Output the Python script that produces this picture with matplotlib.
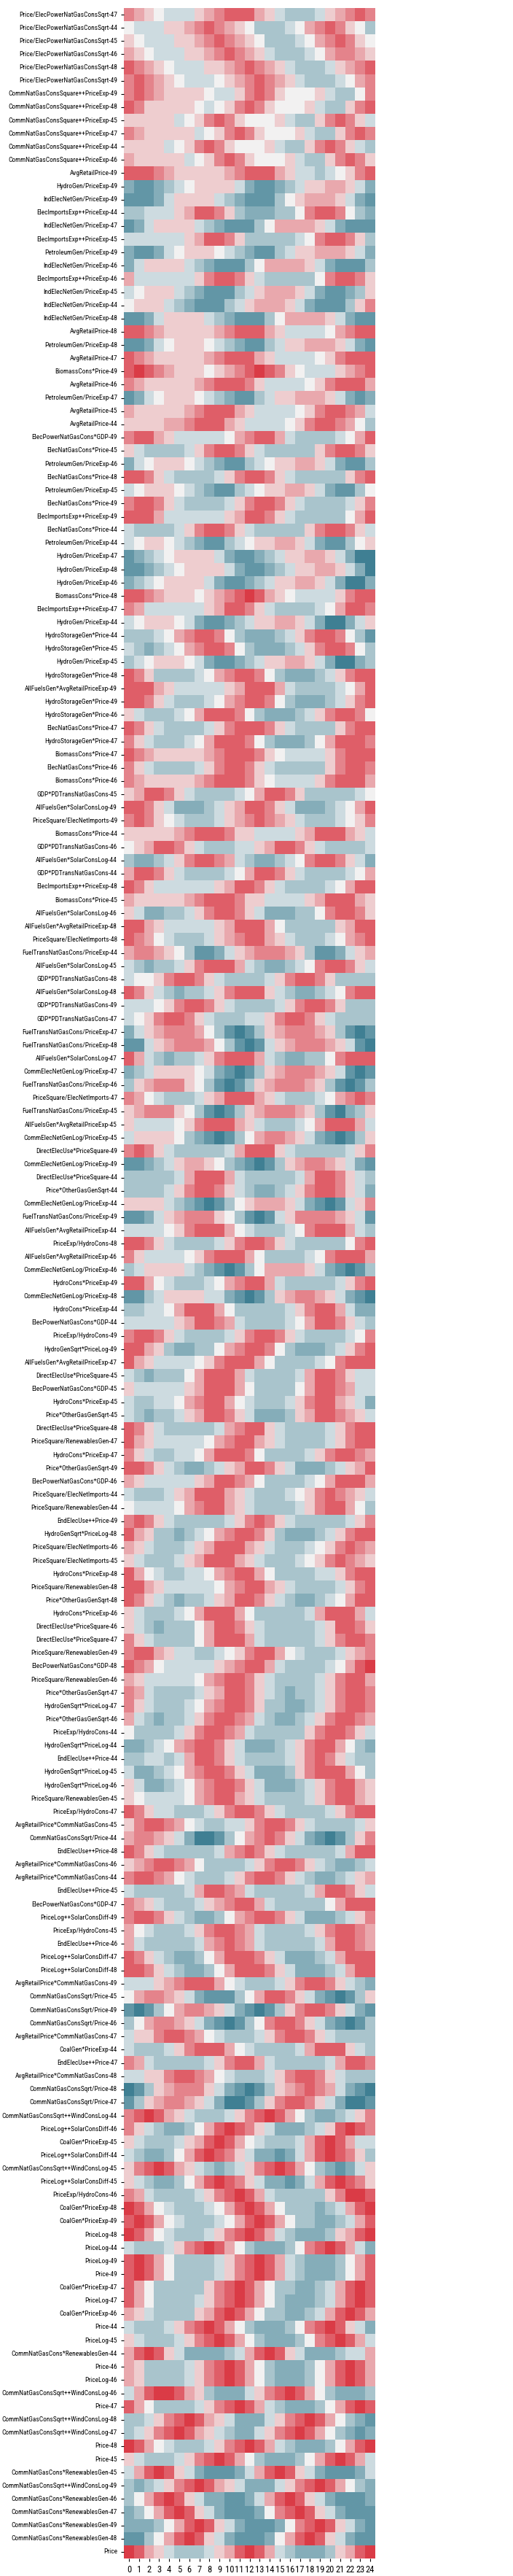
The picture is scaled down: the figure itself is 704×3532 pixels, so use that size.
import matplotlib
matplotlib.use("Agg")
import matplotlib.pyplot as plt
from matplotlib import font_manager
import seaborn as sns
import pandas as pd

# look for a narrow face for the long feature names, else plain DejaVu Sans
narrow = ('condensed', 'semi-condensed', 'extra-condensed', 'ultra-condensed')
fonts = font_manager.fontManager.ttflist
label_family, label_stretch = 'DejaVu Sans', 'normal'
for want in ['Liberation Sans Narrow', 'Roboto Condensed', 'Open Sans Condensed', 'Noto Sans',
             'DejaVu Sans', 'Roboto', 'Open Sans']:
    hit = [f for f in fonts if f.name == want and (f.stretch in narrow or 'Narrow' in want or 'Condensed' in want)
           and f.style == 'normal']
    if hit:
        label_family, label_stretch = want, hit[0].stretch
        break
plt.rcParams['font.family'] = [label_family, 'DejaVu Sans']
plt.rcParams['font.stretch'] = label_stretch

lags = list(range(25))

features = [
    "Price/ElecPowerNatGasConsSqrt-47", "Price/ElecPowerNatGasConsSqrt-44", "Price/ElecPowerNatGasConsSqrt-45",
    "Price/ElecPowerNatGasConsSqrt-46", "Price/ElecPowerNatGasConsSqrt-48", "Price/ElecPowerNatGasConsSqrt-49",
    "CommNatGasConsSquare++PriceExp-49", "CommNatGasConsSquare++PriceExp-48", "CommNatGasConsSquare++PriceExp-45",
    "CommNatGasConsSquare++PriceExp-47", "CommNatGasConsSquare++PriceExp-44", "CommNatGasConsSquare++PriceExp-46",
    "AvgRetailPrice-49", "HydroGen/PriceExp-49", "IndElecNetGen/PriceExp-49", "ElecImportsExp++PriceExp-44",
    "IndElecNetGen/PriceExp-47", "ElecImportsExp++PriceExp-45", "PetroleumGen/PriceExp-49", "IndElecNetGen/PriceExp-46",
    "ElecImportsExp++PriceExp-46", "IndElecNetGen/PriceExp-45", "IndElecNetGen/PriceExp-44", "IndElecNetGen/PriceExp-48",
    "AvgRetailPrice-48", "PetroleumGen/PriceExp-48", "AvgRetailPrice-47", "BiomassCons*Price-49",
    "AvgRetailPrice-46", "PetroleumGen/PriceExp-47", "AvgRetailPrice-45", "AvgRetailPrice-44",
    "ElecPowerNatGasCons*GDP-49", "ElecNatGasCons*Price-45", "PetroleumGen/PriceExp-46", "ElecNatGasCons*Price-48",
    "PetroleumGen/PriceExp-45", "ElecNatGasCons*Price-49", "ElecImportsExp++PriceExp-49", "ElecNatGasCons*Price-44",
    "PetroleumGen/PriceExp-44", "HydroGen/PriceExp-47", "HydroGen/PriceExp-48", "HydroGen/PriceExp-46",
    "BiomassCons*Price-48", "ElecImportsExp++PriceExp-47", "HydroGen/PriceExp-44", "HydroStorageGen*Price-44",
    "HydroStorageGen*Price-45", "HydroGen/PriceExp-45", "HydroStorageGen*Price-48", "AllFuelsGen*AvgRetailPriceExp-49",
    "HydroStorageGen*Price-49", "HydroStorageGen*Price-46", "ElecNatGasCons*Price-47", "HydroStorageGen*Price-47",
    "BiomassCons*Price-47", "ElecNatGasCons*Price-46", "BiomassCons*Price-46", "GDP*PDTransNatGasCons-45",
    "AllFuelsGen*SolarConsLog-49", "PriceSquare/ElecNetImports-49", "BiomassCons*Price-44", "GDP*PDTransNatGasCons-46",
    "AllFuelsGen*SolarConsLog-44", "GDP*PDTransNatGasCons-44", "ElecImportsExp++PriceExp-48", "BiomassCons*Price-45",
    "AllFuelsGen*SolarConsLog-46", "AllFuelsGen*AvgRetailPriceExp-48", "PriceSquare/ElecNetImports-48",
    "FuelTransNatGasCons/PriceExp-44", "AllFuelsGen*SolarConsLog-45", "GDP*PDTransNatGasCons-48",
    "AllFuelsGen*SolarConsLog-48", "GDP*PDTransNatGasCons-49", "GDP*PDTransNatGasCons-47",
    "FuelTransNatGasCons/PriceExp-47", "FuelTransNatGasCons/PriceExp-48", "AllFuelsGen*SolarConsLog-47",
    "CommElecNetGenLog/PriceExp-47", "FuelTransNatGasCons/PriceExp-46", "PriceSquare/ElecNetImports-47",
    "FuelTransNatGasCons/PriceExp-45", "AllFuelsGen*AvgRetailPriceExp-45", "CommElecNetGenLog/PriceExp-45",
    "DirectElecUse*PriceSquare-49", "CommElecNetGenLog/PriceExp-49", "DirectElecUse*PriceSquare-44",
    "Price*OtherGasGenSqrt-44", "CommElecNetGenLog/PriceExp-44", "FuelTransNatGasCons/PriceExp-49",
    "AllFuelsGen*AvgRetailPriceExp-44", "PriceExp/HydroCons-48", "AllFuelsGen*AvgRetailPriceExp-46",
    "CommElecNetGenLog/PriceExp-46", "HydroCons*PriceExp-49", "CommElecNetGenLog/PriceExp-48",
    "HydroCons*PriceExp-44", "ElecPowerNatGasCons*GDP-44", "PriceExp/HydroCons-49", "HydroGenSqrt*PriceLog-49",
    "AllFuelsGen*AvgRetailPriceExp-47", "DirectElecUse*PriceSquare-45", "ElecPowerNatGasCons*GDP-45",
    "HydroCons*PriceExp-45", "Price*OtherGasGenSqrt-45", "DirectElecUse*PriceSquare-48",
    "PriceSquare/RenewablesGen-47", "HydroCons*PriceExp-47", "Price*OtherGasGenSqrt-49",
    "ElecPowerNatGasCons*GDP-46", "PriceSquare/ElecNetImports-44", "PriceSquare/RenewablesGen-44",
    "EndElecUse++Price-49", "HydroGenSqrt*PriceLog-48", "PriceSquare/ElecNetImports-46",
    "PriceSquare/ElecNetImports-45", "HydroCons*PriceExp-48", "PriceSquare/RenewablesGen-48",
    "Price*OtherGasGenSqrt-48", "HydroCons*PriceExp-46", "DirectElecUse*PriceSquare-46",
    "DirectElecUse*PriceSquare-47", "PriceSquare/RenewablesGen-49", "ElecPowerNatGasCons*GDP-48",
    "PriceSquare/RenewablesGen-46", "Price*OtherGasGenSqrt-47", "HydroGenSqrt*PriceLog-47",
    "Price*OtherGasGenSqrt-46", "PriceExp/HydroCons-44", "HydroGenSqrt*PriceLog-44", "EndElecUse++Price-44",
    "HydroGenSqrt*PriceLog-45", "HydroGenSqrt*PriceLog-46", "PriceSquare/RenewablesGen-45",
    "PriceExp/HydroCons-47", "AvgRetailPrice*CommNatGasCons-45", "CommNatGasConsSqrt/Price-44",
    "EndElecUse++Price-48", "AvgRetailPrice*CommNatGasCons-46", "AvgRetailPrice*CommNatGasCons-44",
    "EndElecUse++Price-45", "ElecPowerNatGasCons*GDP-47", "PriceLog++SolarConsDiff-49", "PriceExp/HydroCons-45",
    "EndElecUse++Price-46", "PriceLog++SolarConsDiff-47", "PriceLog++SolarConsDiff-48",
    "AvgRetailPrice*CommNatGasCons-49", "CommNatGasConsSqrt/Price-45", "CommNatGasConsSqrt/Price-49",
    "CommNatGasConsSqrt/Price-46", "AvgRetailPrice*CommNatGasCons-47", "CoalGen*PriceExp-44",
    "EndElecUse++Price-47", "AvgRetailPrice*CommNatGasCons-48", "CommNatGasConsSqrt/Price-48",
    "CommNatGasConsSqrt/Price-47", "CommNatGasConsSqrt++WindConsLog-44", "PriceLog++SolarConsDiff-46",
    "CoalGen*PriceExp-45", "PriceLog++SolarConsDiff-44", "CommNatGasConsSqrt++WindConsLog-45",
    "PriceLog++SolarConsDiff-45", "PriceExp/HydroCons-46", "CoalGen*PriceExp-48", "CoalGen*PriceExp-49",
    "PriceLog-48", "PriceLog-44", "PriceLog-49", "Price-49", "CoalGen*PriceExp-47", "PriceLog-47",
    "CoalGen*PriceExp-46", "Price-44", "PriceLog-45", "CommNatGasCons*RenewablesGen-44", "Price-46",
    "PriceLog-46", "CommNatGasConsSqrt++WindConsLog-46", "Price-47", "CommNatGasConsSqrt++WindConsLog-48",
    "CommNatGasConsSqrt++WindConsLog-47", "Price-48", "Price-45", "CommNatGasCons*RenewablesGen-45",
    "CommNatGasConsSqrt++WindConsLog-49", "CommNatGasCons*RenewablesGen-46", "CommNatGasCons*RenewablesGen-47",
    "CommNatGasCons*RenewablesGen-49", "CommNatGasCons*RenewablesGen-48", "Price",
]

# correlation strength per lag, in steps from -5 to 5
values = [
    [3, 2, 1, 0, -1, -1, -1, 1, 2, 3, 4, 4, 4, 2, 1, -1, -2, -2, -2, -1, 1, 2, 3, 4, 3],
    [0, -1, -1, -1, 1, 1, 2, 3, 4, 3, 2, 1, 0, -2, -2, -2, -1, 0, 2, 3, 4, 3, 1, 0, -2],
    [1, 0, -1, -1, -1, 1, 1, 2, 3, 4, 3, 2, 1, 0, -2, -2, -2, -1, 0, 2, 3, 4, 3, 1, 0],
    [2, 1, 0, -1, -1, -1, 1, 1, 2, 3, 4, 3, 2, 1, -1, -2, -2, -2, -1, 0, 2, 3, 3, 2, 1],
    [4, 3, 2, 1, 0, -1, -1, -1, 1, 1, 2, 3, 4, 3, 2, 1, -1, -2, -2, -2, -1, 1, 2, 3, 4],
    [3, 4, 3, 2, 1, 0, -1, -1, -1, 0, 1, 2, 3, 4, 3, 2, 1, -1, -2, -2, -2, -1, 0, 2, 3],
    [3, 4, 3, 2, 1, 1, 1, 1, 0, -1, -1, 1, 3, 4, 3, 1, 0, 0, 0, 1, -1, -2, -2, 0, 3],
    [4, 3, 1, 1, 1, 1, 1, 0, -1, 0, 1, 3, 4, 3, 1, 0, 0, 0, 1, -1, -2, -2, 1, 3, 4],
    [1, 1, 1, 1, 1, -1, 0, 1, 3, 4, 3, 1, 0, 0, 0, 1, -1, -2, -2, 1, 3, 4, 3, 1, -1],
    [3, 2, 1, 1, 1, 1, 1, -1, 0, 1, 3, 4, 3, 1, 0, 0, 0, 1, -1, -2, -2, 1, 3, 4, 3],
    [1, 1, 1, 1, -1, 0, 1, 3, 4, 3, 1, 0, 0, 0, 1, -1, -2, -2, 1, 3, 4, 3, 1, -1, -2],
    [2, 1, 1, 1, 1, 1, -1, 0, 1, 3, 4, 3, 1, 0, 0, 0, 1, -1, -2, -2, 1, 3, 4, 3, 1],
    [4, 4, 4, 3, 2, 1, 1, 1, 1, 1, 2, 3, 4, 4, 4, 2, 1, -1, -1, -2, -1, 0, 1, 3, 4],
    [-3, -4, -4, -3, -2, -1, 0, 1, 1, 1, 1, -1, -3, -4, -4, -3, -2, -1, 1, 1, 2, 2, 1, -1, -3],
    [-4, -4, -4, -3, -1, 1, 1, 1, 1, -1, -2, -3, -4, -4, -4, -2, 0, 1, 2, 2, 2, 1, -1, -3, -4],
    [-2, -2, -1, -1, -1, 1, 2, 4, 4, 3, 1, -2, -3, -3, -3, -2, -2, 0, 3, 4, 4, 3, 0, -2, -3],
    [-4, -3, -1, 1, 1, 1, 1, -1, -2, -3, -4, -4, -4, -2, 0, 2, 2, 2, 2, 1, -1, -3, -4, -4, -4],
    [-1, -1, -1, -1, -1, -1, 1, 2, 4, 4, 3, 1, -2, -2, -2, -2, -2, -1, 0, 3, 4, 4, 3, 1, -2],
    [-3, -4, -4, -3, -1, 0, 1, 1, 1, 0, -1, -2, -3, -4, -4, -2, -1, 1, 1, 2, 2, 2, 1, -1, -3],
    [-3, -1, 1, 1, 1, 1, -1, -2, -3, -4, -4, -4, -2, 0, 2, 2, 2, 2, 1, -1, -3, -4, -4, -4, -2],
    [2, -1, -1, -1, -1, -1, -1, 1, 3, 4, 4, 3, 1, -1, -2, -2, -2, -2, -2, 0, 3, 4, 4, 3, 1],
    [-1, 0, 1, 1, 1, -1, -2, -3, -4, -4, -4, -2, -1, 1, 2, 2, 2, 1, -1, -3, -4, -4, -3, -2, 1],
    [0, 1, 1, 1, -1, -2, -3, -4, -4, -4, -2, -1, 1, 2, 2, 2, 1, -1, -3, -4, -4, -4, -2, 1, 3],
    [-4, -4, -3, -1, 1, 1, 1, 1, -1, -2, -3, -4, -4, -4, -2, 0, 2, 2, 2, 2, 1, -1, -3, -4, -4],
    [4, 4, 3, 2, 1, 1, 1, 1, 1, 2, 3, 4, 4, 4, 2, 1, -1, -1, -1, -1, 0, 2, 3, 4, 4],
    [-4, -4, -3, -1, 0, 1, 1, 1, 0, -1, -2, -3, -4, -4, -2, -1, 1, 1, 2, 2, 2, 1, -1, -3, -4],
    [4, 3, 2, 1, 1, 1, 1, 1, 2, 3, 4, 4, 4, 2, 1, -1, -1, -1, -1, 0, 1, 3, 4, 4, 4],
    [4, 5, 4, 3, 2, 1, 1, 1, 0, 1, 2, 3, 4, 5, 4, 3, 1, 0, -1, -1, -1, 1, 2, 3, 4],
    [3, 2, 1, 1, 1, 1, 1, 2, 3, 4, 4, 4, 3, 1, -1, -1, -1, -1, 0, 1, 3, 4, 4, 4, 2],
    [-4, -3, -1, 0, 1, 1, 1, 0, -1, -2, -3, -4, -4, -2, -1, 1, 1, 2, 2, 2, 1, -1, -3, -4, -3],
    [2, 1, 1, 1, 1, 1, 2, 3, 4, 4, 4, 2, 1, -1, -1, -1, -1, 0, 1, 3, 4, 4, 3, 2, -1],
    [1, 1, 1, 1, 2, 2, 3, 4, 4, 4, 2, 1, -1, -1, -1, -1, 0, 1, 3, 4, 4, 3, 2, 0, -2],
    [3, 4, 4, 2, 1, -1, -1, -1, -1, -1, 0, 2, 3, 4, 4, 2, -1, -2, -2, -2, -2, -1, 0, 2, 4],
    [1, -1, -2, -2, -2, -2, -1, 1, 3, 4, 4, 3, 1, -1, -2, -2, -2, -2, -2, 1, 3, 4, 4, 3, 1],
    [-3, -1, 0, 1, 1, 1, 0, -1, -2, -3, -4, -4, -2, -1, 0, 1, 1, 2, 2, 1, -1, -3, -4, -4, -2],
    [4, 4, 3, 1, -1, -2, -2, -2, -2, -1, 1, 3, 4, 4, 3, 1, -1, -2, -2, -2, -2, -2, 1, 3, 4],
    [-1, 0, 1, 1, 1, 0, -1, -2, -3, -4, -4, -2, -1, 0, 1, 1, 2, 2, 1, -1, -3, -4, -4, -2, 0],
    [3, 4, 4, 3, 1, -1, -2, -2, -2, -2, -1, 1, 3, 4, 4, 3, 1, -1, -2, -2, -2, -2, -1, 1, 3],
    [4, 4, 4, 2, -1, -1, -1, -1, -1, -1, 1, 2, 4, 4, 3, 1, -1, -2, -2, -2, -2, -2, 0, 2, 4],
    [-1, -2, -2, -2, -2, -1, 1, 3, 4, 4, 3, 1, -1, -2, -2, -2, -2, -2, 1, 3, 4, 4, 3, 1, -1],
    [-1, 0, 1, 1, 0, -1, -2, -3, -4, -4, -2, -1, 0, 1, 1, 2, 2, 1, -1, -3, -4, -4, -2, 0, 1],
    [-4, -3, -2, -1, 0, 1, 1, 1, 1, -1, -3, -4, -4, -3, -2, -1, 1, 1, 2, 2, 1, -1, -3, -5, -5],
    [-4, -4, -3, -2, -1, 0, 1, 1, 1, 1, -1, -3, -4, -4, -3, -2, -1, 1, 1, 2, 2, 1, -1, -3, -5],
    [-3, -2, -1, 0, 1, 1, 1, 1, -1, -3, -4, -4, -3, -2, -1, 1, 1, 2, 2, 1, -1, -3, -5, -5, -3],
    [4, 4, 3, 2, 1, 1, 1, 0, 1, 2, 3, 4, 5, 4, 2, 1, 0, -1, -1, -1, -1, 1, 3, 4, 4],
    [3, 2, -1, -1, -1, -1, -1, -1, 1, 2, 4, 4, 3, 1, -1, -2, -2, -2, -2, -1, 0, 2, 4, 4, 3],
    [-1, 0, 1, 1, 1, 0, -1, -3, -4, -4, -3, -2, -1, 1, 1, 2, 2, 1, -1, -3, -5, -5, -3, -1, 1],
    [-2, -2, -2, -1, 0, 2, 3, 4, 4, 3, 0, -2, -3, -3, -3, -2, -1, 1, 3, 4, 4, 3, 0, -2, -4],
    [-1, -2, -3, -2, -1, 0, 2, 3, 4, 4, 3, 0, -2, -3, -3, -3, -2, -1, 1, 3, 4, 4, 3, 0, -2],
    [-2, -1, 0, 1, 1, 1, 0, -1, -3, -4, -4, -3, -2, -1, 1, 1, 2, 2, 1, -1, -3, -5, -5, -3, -2],
    [4, 3, 1, -2, -2, -2, -2, -1, 0, 2, 3, 4, 4, 3, 0, -2, -3, -3, -3, -2, -1, 1, 3, 4, 4],
    [4, 4, 4, 2, 1, -1, -1, -1, -1, -1, 1, 2, 4, 4, 4, 2, -1, -2, -2, -2, -2, -1, 0, 2, 4],
    [4, 4, 3, 1, -1, -2, -2, -2, -1, 0, 2, 3, 4, 4, 3, 0, -2, -3, -3, -3, -2, -1, 1, 3, 4],
    [1, -1, -2, -2, -2, -1, 0, 2, 4, 4, 4, 3, 0, -2, -3, -3, -3, -2, -1, 1, 3, 4, 4, 3, 0],
    [4, 3, 1, -1, -2, -2, -2, -2, -1, 1, 3, 4, 4, 4, 3, 1, -1, -2, -2, -2, -2, 1, 3, 4, 4],
    [3, 1, -1, -2, -2, -2, -1, 0, 2, 4, 4, 4, 3, 0, -2, -3, -3, -3, -2, 0, 2, 4, 4, 4, 3],
    [4, 3, 2, 1, 1, 1, 1, 1, 2, 3, 4, 4, 4, 3, 1, 0, -1, -1, -1, -1, 1, 3, 4, 4, 4],
    [3, 1, -1, -2, -2, -2, -2, -1, 1, 3, 4, 4, 3, 1, -1, -2, -2, -2, -2, -2, 1, 3, 4, 4, 3],
    [3, 2, 1, 1, 1, 1, 1, 2, 3, 4, 4, 4, 3, 1, 0, -1, -1, -1, -1, 1, 3, 4, 4, 4, 2],
    [1, 2, 4, 4, 3, 1, -1, -2, -2, -2, -2, -1, 0, 2, 4, 4, 3, 1, -2, -2, -2, -2, -2, -1, 0],
    [4, 4, 3, 1, -1, -3, -3, -3, -2, -1, 1, 2, 4, 4, 3, 1, -1, -3, -3, -3, -2, -1, 0, 2, 4],
    [3, 4, 3, 1, 0, -1, -2, -2, -2, -1, 1, 2, 3, 4, 3, 2, 1, -1, -2, -2, -2, -1, 0, 1, 3],
    [1, 1, 1, 1, 1, 2, 3, 4, 4, 4, 3, 1, 1, -1, -1, -1, -1, 1, 2, 4, 4, 4, 2, 1, -1],
    [0, 1, 2, 4, 4, 3, 1, -1, -2, -2, -2, -1, -1, 1, 2, 4, 4, 3, 1, -1, -2, -2, -2, -2, -1],
    [-2, -3, -3, -2, -1, 1, 3, 4, 4, 3, 2, -1, -2, -3, -3, -2, -1, 0, 3, 4, 4, 3, 1, -1, -3],
    [2, 4, 4, 3, 1, -1, -2, -2, -2, -2, -1, 0, 2, 4, 4, 3, 1, -1, -2, -2, -2, -2, -1, 0, 2],
    [4, 3, 1, -1, -1, -1, -1, -1, -1, 1, 2, 4, 4, 3, 1, -1, -2, -2, -2, -2, -1, 0, 2, 4, 4],
    [2, 1, 1, 1, 1, 1, 2, 3, 4, 4, 4, 3, 1, 1, -1, -1, -1, -1, 1, 2, 4, 4, 4, 2, 1],
    [1, -1, -3, -3, -2, -2, -1, 1, 3, 4, 4, 3, 1, -1, -3, -3, -3, -2, -2, 0, 3, 4, 4, 3, 1],
    [4, 4, 2, 1, -1, -1, -1, -1, -1, 1, 2, 4, 4, 4, 2, 0, -2, -2, -2, -2, -2, 1, 2, 4, 4],
    [4, 3, 2, 0, -1, -2, -2, -2, -1, 1, 2, 3, 4, 4, 2, 1, -1, -2, -2, -2, -1, 0, 2, 3, 4],
    [2, 3, 3, 2, 1, 0, -2, -4, -4, -3, -1, 1, 2, 3, 3, 3, 2, 1, -2, -4, -4, -3, -1, 1, 2],
    [-1, -2, -3, -2, -2, -1, 1, 3, 4, 4, 4, 2, -1, -2, -3, -3, -2, -1, 0, 3, 4, 4, 3, 1, -1],
    [-1, 0, 0, 1, 3, 4, 4, 3, 1, -1, -2, -2, -2, -2, -1, 1, 3, 4, 4, 3, 1, -2, -2, -2, -2],
    [4, 3, 1, -1, -2, -3, -2, -2, -1, 1, 3, 4, 4, 4, 1, -1, -2, -3, -3, -2, -1, 0, 3, 4, 4],
    [-1, -1, -1, 0, 1, 3, 4, 4, 3, 1, -1, -2, -2, -2, -2, -1, 1, 3, 4, 4, 3, 1, -2, -2, -2],
    [-1, 0, 1, 3, 4, 4, 3, 1, -1, -2, -2, -2, -1, -1, 1, 3, 4, 4, 3, 1, -1, -2, -2, -2, -2],
    [-3, -1, 1, 2, 3, 3, 3, 2, 0, -2, -4, -5, -4, -2, 1, 2, 3, 3, 3, 2, 1, -2, -4, -5, -4],
    [-4, -4, -1, 1, 2, 3, 3, 3, 2, 0, -2, -4, -5, -4, -1, 1, 2, 3, 3, 3, 2, 1, -1, -4, -5],
    [4, 2, -1, -2, -3, -2, -2, -1, 1, 3, 4, 4, 4, 2, -1, -2, -3, -3, -2, -2, 0, 3, 4, 4, 4],
    [-3, -2, -1, 1, 1, 1, 1, 0, -1, -3, -4, -5, -4, -2, 1, 2, 3, 3, 3, 2, 1, -1, -4, -5, -4],
    [-2, 1, 2, 3, 3, 3, 1, 0, -2, -4, -5, -4, -2, 1, 2, 3, 3, 3, 2, 1, -2, -4, -5, -4, -2],
    [3, 2, 0, -1, -2, -2, -2, -1, 1, 2, 4, 4, 4, 2, 1, -1, -2, -2, -2, -1, 0, 2, 3, 4, 3],
    [1, 2, 3, 3, 3, 1, 0, -2, -4, -5, -4, -2, 1, 2, 3, 3, 3, 2, 1, -2, -4, -5, -3, -2, 1],
    [1, -1, -1, -1, -1, 0, 1, 3, 4, 4, 4, 2, 1, -1, -2, -2, -2, -1, 0, 2, 4, 4, 4, 2, -1],
    [-1, 1, 1, 1, 1, 0, -2, -3, -4, -5, -4, -2, 0, 2, 3, 3, 2, 1, -1, -3, -4, -5, -4, -2, 1],
    [3, 4, 3, 1, -1, -2, -2, -2, -2, -2, -1, 2, 4, 4, 4, 1, -1, -2, -2, -2, -2, -2, -1, 1, 3],
    [-4, -4, -3, -2, -1, 1, 2, 2, 1, 0, -2, -3, -4, -5, -4, -2, 1, 2, 3, 3, 2, 1, -1, -3, -4],
    [-2, -2, -2, -2, -2, -1, 2, 4, 4, 4, 2, -1, -2, -2, -2, -2, -2, -1, 2, 4, 4, 3, 1, -1, -2],
    [-2, -2, -2, -2, -1, 1, 3, 4, 4, 3, 1, -1, -2, -3, -3, -2, -1, 1, 3, 4, 4, 3, 1, -1, -3],
    [1, 1, 1, 1, -1, -2, -3, -4, -5, -4, -2, 0, 1, 2, 2, 2, 1, -1, -3, -4, -5, -4, -1, 1, 3],
    [-4, -4, -3, -1, 1, 2, 3, 3, 3, 1, 0, -2, -4, -5, -4, -1, 1, 3, 3, 3, 3, 2, 1, -1, -4],
    [-1, -1, -1, -1, 0, 1, 3, 4, 4, 4, 2, 0, -1, -2, -2, -2, -1, 0, 3, 4, 4, 4, 2, -1, -2],
    [4, 4, 3, 1, -1, -2, -2, -2, -2, -1, 1, 3, 4, 4, 3, 1, -1, -2, -2, -2, -2, -2, 0, 3, 4],
    [3, 1, -1, -1, -1, -1, 0, 1, 3, 4, 4, 4, 2, 0, -2, -2, -2, -2, -1, 0, 3, 4, 4, 4, 2],
    [-2, -1, 1, 1, 1, 1, -1, -2, -3, -4, -5, -4, -2, 0, 2, 2, 2, 2, 1, -1, -3, -4, -5, -4, -2],
    [4, 4, 2, 0, -1, -2, -2, -2, -1, 0, 2, 3, 4, 4, 2, -1, -2, -2, -2, -2, -2, -1, 1, 3, 4],
    [-4, -4, -2, -1, 1, 1, 1, 1, -1, -1, -3, -4, -5, -4, -2, 1, 2, 3, 3, 2, 1, -1, -3, -4, -5],
    [-2, -2, -1, -1, 0, 2, 4, 4, 4, 2, 0, -2, -2, -2, -2, -2, -1, 1, 3, 4, 4, 2, -1, -3, -3],
    [-1, -1, -1, -1, -1, 1, 2, 4, 4, 3, 2, -1, -2, -2, -2, -2, -1, 0, 2, 4, 4, 3, 1, -1, -2],
    [3, 4, 4, 3, 1, -1, -2, -2, -2, -2, -1, 1, 3, 4, 4, 3, 1, -1, -2, -2, -2, -2, -1, 0, 3],
    [4, 4, 2, 1, -2, -3, -3, -2, -2, 0, 2, 3, 4, 4, 3, 0, -2, -3, -3, -3, -2, -1, 1, 3, 4],
    [4, 2, 1, -1, -1, -1, -1, 0, 1, 3, 4, 4, 4, 2, 0, -2, -2, -2, -2, -1, 0, 3, 4, 4, 4],
    [-1, -2, -3, -2, -2, -2, 0, 2, 4, 4, 4, 2, -1, -2, -2, -2, -2, -1, 2, 4, 4, 3, 1, -1, -1],
    [1, -1, -1, -1, -1, -1, 1, 2, 4, 4, 4, 2, 0, -2, -2, -2, -2, 0, 2, 4, 4, 3, 2, -1, -1],
    [-1, -2, -2, -1, -1, 0, 2, 3, 4, 4, 2, 0, -1, -2, -2, -2, -1, 1, 3, 4, 4, 2, 1, -1, -3],
    [-1, -2, -3, -2, -2, -1, 1, 2, 4, 4, 3, 1, -1, -3, -3, -3, -2, 1, 2, 4, 4, 3, 2, 1, -1],
    [4, 3, 1, -1, -2, -2, -2, -2, -2, -1, 2, 3, 4, 4, 1, -1, -2, -2, -2, -2, -1, 1, 3, 4, 4],
    [4, 2, 1, -1, -1, -1, -1, -1, 0, 2, 3, 4, 4, 2, 1, -1, -2, -2, -2, -2, -1, 1, 3, 4, 4],
    [3, 1, -1, -2, -2, -1, -1, 0, 2, 4, 4, 4, 3, 0, -2, -2, -2, -2, -1, 1, 3, 4, 4, 3, 2],
    [4, 4, 3, 1, -1, -2, -3, -3, -2, -1, 1, 2, 4, 4, 3, 1, -1, -3, -3, -3, -2, -1, 1, 2, 4],
    [2, 1, -1, -1, -1, -1, -1, 1, 2, 4, 4, 3, 2, 0, -2, -2, -2, -2, -1, 0, 2, 4, 4, 4, 2],
    [-1, -2, -2, -2, -1, 1, 2, 4, 4, 4, 2, 1, -1, -2, -2, -2, -1, 0, 1, 3, 4, 3, 2, 1, -1],
    [0, -1, -1, -1, -1, 0, 2, 3, 4, 4, 2, 1, -1, -2, -2, -2, -2, -1, 1, 3, 4, 4, 2, 0, -2],
    [3, 4, 3, 1, -1, -2, -2, -2, -2, -2, -1, 1, 3, 4, 3, 1, -1, -2, -2, -2, -2, -2, -1, 1, 3],
    [4, 2, 1, -2, -2, -3, -2, -1, 0, 2, 3, 4, 4, 3, 1, -2, -3, -3, -3, -2, -1, 1, 3, 4, 4],
    [2, 1, -1, -2, -2, -2, -1, 1, 2, 4, 4, 4, 2, 1, -1, -2, -2, -2, -1, 0, 1, 3, 4, 3, 2],
    [1, -1, -2, -2, -2, -1, 1, 2, 4, 4, 4, 2, 1, -1, -2, -2, -2, -1, 0, 1, 3, 4, 3, 2, 1],
    [4, 2, 0, -1, -2, -2, -1, -1, 0, 2, 3, 4, 4, 2, 0, -2, -2, -2, -2, -1, -1, 1, 3, 4, 4],
    [4, 4, 2, 1, -1, -1, -1, -1, -1, 0, 2, 3, 4, 4, 2, 1, -1, -2, -2, -2, -2, -1, 1, 3, 4],
    [4, 3, 1, -1, -2, -3, -2, -2, -1, 1, 2, 4, 4, 3, 1, -1, -2, -3, -3, -2, -1, 0, 2, 4, 4],
    [1, -1, -2, -2, -2, -1, 0, 2, 4, 4, 4, 2, 0, -2, -2, -2, -2, -2, -1, 2, 4, 4, 4, 2, -1],
    [1, -1, -2, -3, -2, -2, -2, 0, 2, 4, 4, 3, 1, -1, -2, -2, -2, -2, -2, -1, 1, 4, 4, 3, 1],
    [3, 1, -1, -2, -2, -2, -2, 0, 2, 4, 4, 4, 2, -1, -2, -2, -2, -2, -2, -1, 1, 3, 4, 4, 3],
    [3, 4, 4, 2, 1, -1, -1, -2, -2, -1, 0, 1, 3, 4, 4, 2, 0, -1, -2, -2, -2, -1, 1, 2, 3],
    [4, 3, 2, 0, -1, -1, -1, -1, -1, 1, 2, 3, 4, 4, 2, -1, -2, -2, -2, -2, -1, 0, 2, 4, 5],
    [2, 1, -1, -1, -1, -1, -1, 0, 2, 3, 4, 4, 3, 1, -1, -2, -2, -2, -2, -1, 1, 3, 4, 4, 2],
    [3, 2, -1, -2, -2, -2, -2, -1, 1, 2, 4, 4, 3, 1, -1, -2, -3, -2, -2, -1, 1, 3, 4, 4, 3],
    [3, 1, -1, -2, -2, -2, -1, 0, 2, 3, 4, 4, 3, 1, -2, -2, -3, -3, -2, -1, 1, 3, 4, 4, 3],
    [2, -1, -2, -3, -2, -2, -1, 1, 3, 4, 4, 3, 2, -1, -2, -3, -3, -2, -1, 1, 3, 4, 4, 3, 2],
    [0, -2, -2, -2, -2, -1, 1, 3, 4, 4, 3, 2, -1, -2, -2, -2, -2, -2, 1, 3, 4, 4, 3, 1, -1],
    [-3, -3, -2, -1, 0, 2, 3, 4, 4, 3, 1, -1, -3, -3, -3, -2, -1, 1, 3, 4, 4, 2, 0, -2, -3],
    [-2, -2, -1, -1, -2, -1, 2, 4, 4, 3, 1, -1, -2, -2, -2, -2, -1, 1, 3, 4, 3, 1, -1, -2, -2],
    [-1, -3, -3, -2, -1, 0, 2, 3, 4, 4, 3, 1, -1, -3, -3, -3, -2, 1, 3, 4, 4, 4, 2, 0, -2],
    [1, -1, -3, -3, -2, -1, 0, 2, 3, 4, 4, 3, 1, -1, -3, -3, -3, -2, -1, 1, 3, 4, 4, 2, 1],
    [1, 0, -1, -1, -1, -1, 0, 2, 3, 4, 4, 2, 1, -1, -2, -2, -2, -2, -1, 1, 3, 4, 4, 2, 1],
    [4, 3, 1, -1, -1, -2, -2, -2, -1, 1, 3, 4, 4, 3, 1, -1, -2, -2, -2, -2, -1, 1, 3, 4, 4],
    [1, 3, 4, 4, 3, 2, 0, -1, -2, -2, -1, -1, 1, 3, 4, 4, 3, 1, -1, -2, -2, -2, -2, -1, 1],
    [2, 3, 3, 2, 1, -1, -3, -5, -5, -4, -2, 0, 2, 3, 4, 3, 1, -1, -3, -4, -5, -4, -2, 1, 3],
    [4, 3, 1, -1, -2, -2, -2, -2, -2, -1, 2, 3, 4, 3, 1, -1, -2, -2, -2, -2, -2, -1, 2, 4, 4],
    [1, 2, 3, 4, 4, 3, 2, 0, -2, -2, -2, -2, -1, 1, 3, 4, 4, 3, 1, -1, -2, -3, -3, -2, -1],
    [3, 4, 4, 3, 2, 0, -1, -2, -2, -2, -1, 1, 3, 4, 4, 3, 1, -1, -2, -3, -3, -2, -1, 1, 2],
    [-1, -2, -2, -2, -2, -2, -1, 2, 4, 4, 3, 2, -1, -2, -2, -2, -2, -2, -1, 2, 4, 4, 3, 1, -1],
    [3, 2, 1, -1, -2, -2, -2, -1, 1, 2, 3, 4, 4, 2, -1, -2, -2, -2, -2, -2, 0, 2, 4, 4, 4],
    [3, 4, 4, 3, 1, -1, -2, -3, -3, -2, 0, 2, 3, 4, 4, 3, 1, -1, -3, -3, -3, -2, -1, 1, 3],
    [2, 0, -1, -2, -2, -2, -1, 1, 3, 4, 4, 3, 2, -1, -2, -2, -2, -2, -1, 1, 3, 4, 4, 3, 2],
    [2, -1, -2, -2, -2, -2, -2, -1, 2, 3, 4, 3, 2, -1, -2, -2, -2, -2, -2, -1, 2, 4, 4, 3, 2],
    [4, 3, 1, -1, -2, -3, -3, -2, 0, 2, 4, 4, 4, 3, 1, -1, -3, -3, -3, -2, -1, 2, 4, 4, 4],
    [4, 4, 3, 1, -1, -2, -3, -3, -2, 0, 2, 4, 4, 4, 3, 1, -1, -3, -3, -3, -2, -1, 2, 4, 4],
    [-1, -1, -1, 1, 2, 3, 4, 4, 4, 2, 0, -1, -2, -2, -2, -1, 1, 3, 4, 4, 3, 1, -1, -2, -3],
    [0, 2, 3, 3, 2, 1, -1, -3, -4, -4, -4, -2, 0, 2, 4, 4, 3, 1, -1, -3, -4, -5, -4, -2, 1],
    [-4, -5, -4, -2, 0, 2, 3, 3, 2, 1, -1, -3, -4, -5, -4, -2, 1, 3, 4, 4, 3, 1, -1, -3, -4],
    [-2, 0, 2, 3, 3, 2, 1, -1, -3, -4, -5, -4, -2, 0, 3, 4, 4, 3, 1, -1, -3, -4, -5, -4, -2],
    [-1, 1, 1, 3, 4, 4, 3, 2, 0, -1, -2, -2, -2, -1, 1, 3, 4, 4, 3, 1, -1, -2, -2, -2, -2],
    [-1, -2, -2, -2, -1, 1, 3, 4, 4, 4, 2, 0, -1, -2, -2, -2, -2, -1, 2, 4, 4, 4, 1, -1, -2],
    [3, 2, -1, -2, -2, -2, -2, -2, -1, 1, 3, 4, 4, 2, -1, -2, -2, -2, -2, -2, -1, 2, 4, 4, 3],
    [-1, -1, 1, 1, 3, 4, 4, 3, 2, 0, -1, -2, -2, -2, -1, 1, 3, 4, 4, 3, 1, -1, -2, -2, -2],
    [-5, -4, -2, 1, 2, 3, 3, 3, 1, -1, -3, -4, -5, -4, -2, 1, 2, 3, 4, 3, 2, -1, -3, -4, -5],
    [-4, -2, 1, 2, 3, 3, 2, 1, -1, -3, -5, -5, -4, -2, 1, 3, 4, 4, 3, 1, -1, -3, -5, -5, -4],
    [3, 4, 5, 4, 2, 1, -1, -2, -2, -2, -1, 1, 3, 4, 5, 4, 2, 0, -2, -3, -3, -2, -1, 1, 3],
    [3, 1, -1, -2, -3, -3, -2, 0, 2, 4, 5, 4, 3, 1, -1, -3, -3, -3, -2, -1, 1, 4, 5, 4, 3],
    [1, -1, -2, -2, -2, -1, 1, 2, 4, 5, 4, 2, 0, -1, -2, -2, -2, -1, 2, 4, 5, 4, 2, -1, -1],
    [-1, -2, -3, -3, -2, 0, 2, 4, 5, 4, 3, 1, -1, -3, -3, -4, -3, -1, 2, 4, 5, 4, 3, 1, -2],
    [1, 3, 4, 5, 4, 2, 1, -1, -2, -3, -2, -1, 1, 3, 4, 5, 4, 2, 0, -2, -3, -4, -3, -1, 1],
    [1, -1, -2, -3, -3, -2, 0, 2, 4, 5, 4, 3, 1, -1, -3, -3, -4, -3, -1, 2, 4, 5, 4, 3, 1],
    [3, 2, -1, -2, -2, -2, -2, -1, 1, 3, 4, 5, 4, 2, -1, -2, -2, -2, -2, -2, 1, 3, 5, 5, 4],
    [5, 4, 2, 0, -1, -2, -2, -2, -1, 0, 2, 4, 5, 4, 2, 0, -2, -2, -2, -3, -2, -1, 2, 4, 5],
    [4, 5, 4, 2, 0, -1, -2, -2, -2, -1, 0, 2, 4, 5, 4, 2, 0, -2, -2, -3, -3, -2, -1, 2, 4],
    [5, 4, 2, 0, -1, -2, -2, -2, -1, 1, 3, 4, 5, 4, 2, -1, -2, -3, -3, -3, -2, 1, 2, 4, 5],
    [-1, -2, -2, -2, -1, 1, 3, 4, 5, 4, 2, 0, -2, -3, -3, -3, -2, 0, 3, 4, 5, 4, 2, -1, -3],
    [4, 5, 4, 2, 0, -2, -2, -2, -2, -1, 1, 3, 4, 5, 4, 2, -1, -2, -3, -3, -3, -2, 0, 2, 4],
    [4, 5, 4, 2, 0, -2, -2, -2, -2, -1, 1, 3, 4, 5, 4, 2, -1, -2, -3, -3, -3, -2, 0, 2, 4],
    [4, 2, 0, -2, -2, -2, -2, -2, 1, 3, 4, 5, 4, 2, 0, -2, -2, -3, -3, -2, -1, 2, 4, 5, 4],
    [4, 2, 0, -2, -2, -2, -2, -1, 1, 3, 4, 5, 4, 2, 0, -2, -3, -3, -3, -2, -1, 2, 4, 5, 4],
    [2, 1, -1, -2, -2, -2, -2, 1, 2, 4, 5, 4, 2, 0, -2, -2, -3, -3, -2, -1, 2, 4, 5, 4, 2],
    [-1, -2, -2, -2, -1, 1, 3, 4, 5, 4, 2, 0, -2, -3, -3, -3, -2, 0, 3, 4, 5, 4, 1, -1, -3],
    [1, -1, -2, -2, -2, -1, 1, 3, 4, 5, 4, 2, 0, -2, -3, -3, -3, -2, 0, 3, 4, 5, 4, 2, -1],
    [2, 4, 5, 4, 1, -1, -3, -3, -3, -3, -2, -1, 2, 4, 5, 4, 1, -1, -3, -3, -3, -2, -1, -1, 2],
    [2, 1, -2, -2, -2, -2, -1, 1, 3, 4, 5, 4, 2, 0, -2, -3, -3, -3, -2, 0, 2, 4, 5, 4, 2],
    [2, 1, -2, -2, -2, -2, -1, 1, 3, 4, 5, 4, 2, 0, -2, -3, -3, -3, -2, 0, 2, 4, 5, 4, 2],
    [-1, 2, 4, 5, 5, 4, 2, 1, -2, -3, -3, -3, -1, 1, 3, 4, 5, 4, 2, 0, -2, -3, -3, -3, -2],
    [4, 2, 0, -2, -2, -2, -2, -1, 1, 3, 4, 5, 4, 2, -1, -2, -3, -3, -3, -2, 0, 2, 4, 5, 4],
    [-2, -2, -1, 1, 3, 4, 5, 4, 2, 1, -1, -3, -3, -3, -1, 1, 3, 4, 5, 4, 2, 0, -2, -3, -4],
    [-2, -1, 1, 3, 4, 5, 4, 2, 1, -1, -2, -3, -3, -1, 1, 3, 4, 5, 4, 2, 0, -2, -3, -4, -3],
    [5, 4, 2, 0, -1, -2, -2, -2, -1, 1, 3, 4, 5, 4, 2, -1, -2, -3, -3, -3, -2, 0, 2, 4, 5],
    [1, -1, -2, -2, -2, -1, 1, 3, 4, 5, 4, 2, 0, -2, -3, -3, -3, -2, 0, 2, 4, 5, 4, 2, -1],
    [-1, 2, 4, 5, 4, 1, -1, -3, -4, -4, -4, -3, -1, 2, 4, 5, 4, 1, -1, -3, -4, -4, -4, -3, -1],
    [-2, -3, -2, -1, 1, 3, 4, 5, 4, 2, 1, -1, -3, -3, -3, -1, 1, 3, 4, 5, 4, 2, 0, -2, -3],
    [-2, 0, 2, 4, 5, 4, 1, -1, -3, -3, -4, -4, -3, -1, 2, 4, 5, 4, 1, -1, -3, -4, -4, -4, -3],
    [-3, -2, 0, 2, 4, 5, 4, 1, -1, -3, -4, -4, -4, -3, 0, 3, 4, 5, 4, 1, -1, -3, -4, -4, -4],
    [-3, -3, -3, -2, 0, 2, 4, 5, 4, 1, -1, -3, -4, -4, -4, -3, 0, 3, 4, 5, 4, 1, -1, -3, -4],
    [-4, -4, -2, 0, 2, 4, 5, 4, 1, -1, -3, -4, -4, -4, -3, 0, 2, 4, 5, 4, 1, -1, -3, -4, -4],
    [5, 4, 2, 1, -1, -2, -2, -2, -1, 1, 2, 4, 5, 4, 2, -1, -2, -3, -3, -3, -2, 1, 2, 4, 5],
]

df = pd.DataFrame(values, index=features, columns=lags)

cmap = sns.diverging_palette(220, 10, as_cmap=True)

fig = plt.figure(figsize=(7.04, 35.32), dpi=100)
ax = fig.add_axes([170 / 704, 24 / 3532, 345 / 704, 3497 / 3532])
sns.heatmap(df, cmap=cmap, vmin=-5, vmax=5, cbar=False, ax=ax,
            xticklabels=True, yticklabels=True)
ax.tick_params(axis='both', labelsize=9, length=3)
plt.setp(ax.get_yticklabels(), rotation=0)
plt.setp(ax.get_xticklabels(), rotation=0)

# shrink the labels until the longest one fits left of the heatmap
fig.canvas.draw()
widest = max(t.get_window_extent().width for t in ax.get_yticklabels())
if widest > 158:
    ax.tick_params(axis='y', labelsize=9 * 158 / widest)
widest_x = max(t.get_window_extent().width for t in ax.get_xticklabels())
if widest_x > 12.5:
    ax.tick_params(axis='x', labelsize=9 * 12.5 / widest_x)

fig.savefig("out.png", dpi=100)
